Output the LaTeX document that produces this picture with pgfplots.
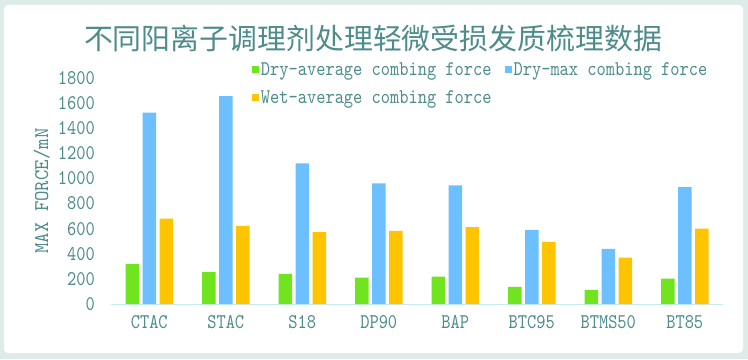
\documentclass[border=0pt]{standalone}
\usepackage{pgfplots}
\pgfplotsset{compat=1.18}
\usepackage{fontspec}
\setmainfont{lmmono10-regular.otf}[FakeStretch=0.84]
\newfontfamily\cjk{Noto Sans CJK SC}
\newfontfamily\ylabfont{lmmono10-regular.otf}[FakeStretch=0.95]
\definecolor{txt}{RGB}{78,140,140}
\definecolor{mintbg}{RGB}{221,236,233}
\definecolor{cgreen}{RGB}{112,228,30}
\definecolor{cblue}{RGB}{108,192,255}
\definecolor{corange}{RGB}{255,196,0}
\definecolor{axcol}{RGB}{200,236,242}
\begin{document}
\begin{tikzpicture}[x=1bp,y=1bp]
\useasboundingbox (0,0) rectangle (748,359);
\fill[mintbg] (0,0) rectangle (748,359);
\fill[white, rounded corners=4bp] (4,6) rectangle (743,354);
\node[font=\cjk\fontsize{29}{32}\selectfont, text=txt] at (373,321) {不同阳离子调理剂处理轻微受损发质梳理数据};
\begin{axis}[
  at={(111bp,55bp)}, anchor=south west,
  scale only axis, width=612bp, height=226bp,
  xmin=-0.5, xmax=7.5, ymin=0, ymax=1800,
  xtick={0,1,2,3,4,5,6,7},
  xticklabels={CTAC,STAC,S18,DP90,BAP,BTC95,BTMS50,BT85},
  ytick={0,200,400,600,800,1000,1200,1400,1600,1800},
  separate axis lines,
  axis x line=bottom, axis y line=left,
  axis line style={-},
  x axis line style={draw=axcol, line width=0.8bp},
  y axis line style={draw=none},
  major tick length=0pt,
  /pgf/number format/assume math mode=true,
  /pgf/number format/1000 sep={},
  tick label style={font=\fontsize{21}{23}\selectfont, text=txt},
  yticklabel style={inner sep=0pt, anchor=east, xshift=-16bp},
  xticklabel style={inner sep=0pt, anchor=north, yshift=-11bp},
  ylabel={MAX FORCE/mN},
  ylabel style={font=\ylabfont\fontsize{21}{23}\selectfont, text=txt, at={(axis description cs:-0.113,0.5)}, anchor=center},
  ybar, bar width=13.5bp,
  legend columns=2,
  legend style={draw=none, fill=none, inner sep=0pt, at={(axis description cs:0.230,1.077)}, anchor=north west,
    font=\fontsize{21}{23}\selectfont, text=txt, row sep=9bp,
    /tikz/every even column/.append style={column sep=11bp},
    /tikz/every odd column/.append style={column sep=0bp}},
  legend cell align=left,
  legend image code/.code={\fill[#1] (0bp,-3.5bp) rectangle (7bp,3.5bp);},
]
\addplot[fill=cgreen, draw=none, bar shift=-17bp] coordinates {(0,320) (1,256) (2,240) (3,210) (4,219) (5,137) (6,112) (7,202)};
\addlegendentry{Dry-average combing force}
\addplot[fill=cblue, draw=none, bar shift=0bp] coordinates {(0,1525) (1,1655) (2,1120) (3,960) (4,945) (5,590) (6,440) (7,930)};
\addlegendentry{Dry-max combing force}
\addplot[fill=corange, draw=none, bar shift=17bp] coordinates {(0,680) (1,622) (2,573) (3,582) (4,613) (5,495) (6,370) (7,600)};
\addlegendentry{Wet-average combing force}
\end{axis}
\end{tikzpicture}
\end{document}
